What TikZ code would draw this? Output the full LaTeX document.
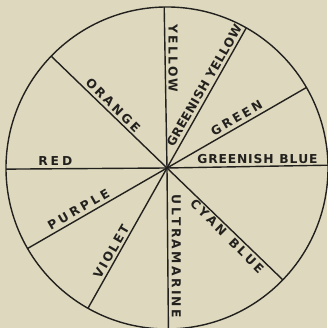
\documentclass[tikz,border=0pt]{standalone}
\usepackage{fontspec}
\newfontfamily\labfam{DejaVu Sans}
\usetikzlibrary{calc}
\definecolor{paper}{RGB}{221,216,190}
\definecolor{ink}{RGB}{35,33,30}
\makeatletter
\def\spr#1{\spr@a#1\relax}
\def\spr@a#1#2{#1\ifx\relax#2\expandafter\@gobble\else\hfil\expandafter\spr@a\fi#2}
\makeatother
\newcommand\lab[2]{\makebox[#1pt][s]{\spr{#2}}}
\begin{document}
\begin{tikzpicture}[x=1pt,y=1pt,line width=1.4pt,
  lbl/.style={inner sep=0pt,text=ink,font=\labfam\bfseries\fontsize{12.3}{14}\selectfont}]
\fill[paper] (-167,-160) rectangle (160,168);
\useasboundingbox (-167,-160) rectangle (160,168);
\coordinate (O) at (0,0);
\draw[ink] (O) circle (161);
\foreach \a/\n in {91/s1,60.5/s2,30/s3,1/s4,-44/s5,-89.5/s6,-119.4/s7,-150/s8,180.4/s9,136/s10}{
  \coordinate (\n) at (\a:161);
  \draw[ink] (O) -- (\n);
}
\node[lbl,rotate=-90] (yellow) at ($(O)+(91:109.7)+(0:8)$) {\lab{68}{YELLOW}};
\node[lbl,rotate=60] (gyellow) at ($(O)+(60.5:90)+(150:8.3)$) {\lab{138}{GREENISH~YELLOW}};
\node[lbl,rotate=30] (green) at ($(O)+(30:85.3)+(120:8.5)$) {\lab{57}{GREEN}};
\node[lbl] (gblue) at ($(O)+(1:90.5)+(90:7.3)$) {\lab{120}{GREENISH~BLUE}};
\node[lbl,rotate=-45] (cyan) at ($(O)+(-44:90.7)+(225:7.3)$) {\lab{98}{CYAN~BLUE}};
\node[lbl,rotate=-90] (ultra) at ($(O)+(-89.5:88.5)+(0:8.5)$) {\lab{123}{ULTRAMARINE}};
\node[lbl,rotate=60] (violet) at ($(O)+(-119.4:100.4)+(150:7.5)$) {\lab{59}{VIOLET}};
\node[lbl,rotate=30] (purple) at ($(O)+(-150:97.3)+(120:8.5)$) {\lab{69}{PURPLE}};
\node[lbl] (red) at ($(O)+(180.4:111.7)+(90:8)$) {\lab{34}{RED}};
\node[lbl,rotate=-45] (orange) at ($(O)+(136:82.7)+(45:7.8)$) {\lab{71}{ORANGE}};
\end{tikzpicture}
\end{document}
